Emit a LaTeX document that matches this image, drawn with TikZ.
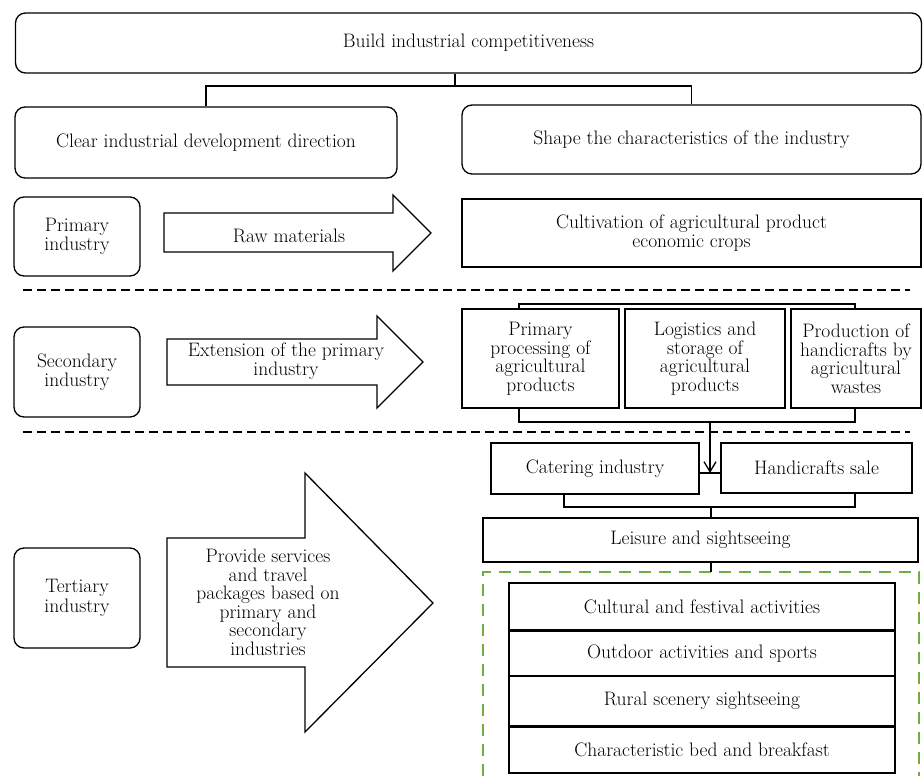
\documentclass[tikz,border=0pt]{standalone}
\usepackage{tikz}
\usepackage{xcolor}
\usetikzlibrary{positioning,arrows.meta}

\definecolor{grpgreen}{HTML}{70AD47}

\begin{document}
\begin{tikzpicture}[x=1pt, y=-1pt,
    every node/.style={font=\fontsize{19.5}{18.5}\selectfont},
    rbox/.style={draw, rounded corners=10pt, line width=1.3pt, inner sep=0pt, align=center},
    sbox/.style={draw, line width=1.3pt, inner sep=0pt, align=center},
    rowbox/.style={sbox, minimum width=386pt},
    blk/.style={draw, line width=1.3pt, line join=miter},
    link/.style={line width=1.3pt},
    sepline/.style={line width=2pt, dash pattern=on 9pt off 5pt},
    grp/.style={draw=grpgreen, line width=2pt, dash pattern=on 12pt off 8pt}]
    \useasboundingbox (0,0) rectangle (923,776);

    % top level
    \node[rbox, minimum width=906pt, minimum height=60pt]
      (top) at (468.5,43) {Build industrial competitiveness};
    \node[rbox, minimum width=382pt, minimum height=71pt]
      (clear) at (206,142.5) {Clear industrial development direction};
    \node[rbox, minimum width=459pt, minimum height=69pt]
      (shape) at (691.5,139.5) {Shape the characteristics of the industry};
    \coordinate (tj) at (455,86);
    \draw[link] (top.south -| tj) -- (tj);
    \draw[link] (clear.north) |- (tj) -| (shape.north);

    % primary industry
    \node[rbox, minimum width=126pt, minimum height=79pt,
      font=\fontsize{19.5}{19.5}\selectfont]
      (prim) at (77,236.5) {Primary\\industry};
    \draw[blk] (164,213) -- (393,213) -- (393,195) -- (431,233)
      -- (393,271) -- (393,252) -- (164,252) -- cycle;
    \node (rawtxt) at (289,236) {Raw materials};
    \node[sbox, minimum width=459pt, minimum height=68pt]
      (cult) at (691.5,233) {Cultivation of agricultural product\\economic crops};

    \draw[sepline] (23,290) -- (910,290);

    % secondary industry
    \node[rbox, minimum width=126pt, minimum height=90pt,
      font=\fontsize{19.5}{19.5}\selectfont]
      (sec) at (77,372) {Secondary\\industry};
    \draw[blk] (167,339) -- (377,339) -- (377,316) -- (423,362)
      -- (377,408) -- (377,385) -- (167,385) -- cycle;
    \node[align=center] (exttxt) at (286,361) {Extension of the primary\\industry};
    \node[sbox, minimum width=157pt, minimum height=99pt]
      (proc) at (540.5,358.5) {Primary\\processing of\\agricultural\\products};
    \node[sbox, minimum width=160pt, minimum height=99pt]
      (logi) at (705,358.5) {Logistics and\\storage of\\agricultural\\products};
    \node[sbox, minimum width=130pt, minimum height=99pt]
      (wast) at (856,358.5) {Production of\\handicrafts by\\agricultural\\wastes};
    \coordinate (ul) at (519,304);
    \coordinate (ur) at (855,304);
    \draw[link] (proc.north -| ul) -- (ul) -- (ur) -- (wast.north -| ur);
    \coordinate (dl) at (519,422);
    \coordinate (dr) at (855,422);
    \draw[link] (proc.south -| dl) -- (dl) -- (dr) -- (wast.south -| dr);

    \draw[sepline] (23,432) -- (910,432);

    % tertiary industry
    \node[rbox, minimum width=126pt, minimum height=100pt,
      font=\fontsize{19.5}{19.5}\selectfont]
      (ter) at (77,598) {Tertiary\\industry};
    \draw[blk] (167,538) -- (305,538) -- (305,473) -- (433,603)
      -- (305,732) -- (305,667) -- (167,667) -- cycle;
    \node[align=center] (prvtxt) at (268,602.5)
      {Provide services\\and travel\\packages based on\\primary and\\secondary\\industries};
    \node[sbox, minimum width=208pt, minimum height=51pt]
      (catr) at (595,468.5) {Catering industry};
    \node[sbox, minimum width=191pt, minimum height=50pt]
      (hand) at (816.5,468) {Handicrafts sale};
    \coordinate (jn) at (710,422);
    \coordinate (lk) at (710,473);
    \draw[link, -{Straight Barb[length=10pt, width=12pt]}] (jn) -- (lk);
    \draw[link] (catr.east |- lk) -- (hand.west |- lk);
    \node[sbox, minimum width=435pt, minimum height=44pt]
      (leis) at (700.5,540) {Leisure and sightseeing};
    \coordinate (ml) at (564,507);
    \coordinate (mr) at (855,507);
    \coordinate (mj) at (711,507);
    \draw[link] (catr.south -| ml) -- (ml) -- (mr) -- (hand.south -| mr);
    \draw[link] (mj) -- (leis.north -| mj);

    % green group
    \draw[grp] (483,776) -- (483,572) -- (919,572) -- (919,776);
    \coordinate (gj) at (711,572);
    \draw[link] (leis.south -| gj) -- (gj);
    \node[rowbox, minimum height=47pt] (fest) at (702,606.5)
      {Cultural and festival activities};
    \node[rowbox, minimum height=44pt, below=0pt of fest] (outd)
      {Outdoor activities and sports};
    \node[rowbox, minimum height=49pt, below=0pt of outd] (rural)
      {Rural scenery sightseeing};
    \node[rowbox, minimum height=46pt, below=0pt of rural] (bnb)
      {Characteristic bed and breakfast};
  \end{tikzpicture}
\end{document}
